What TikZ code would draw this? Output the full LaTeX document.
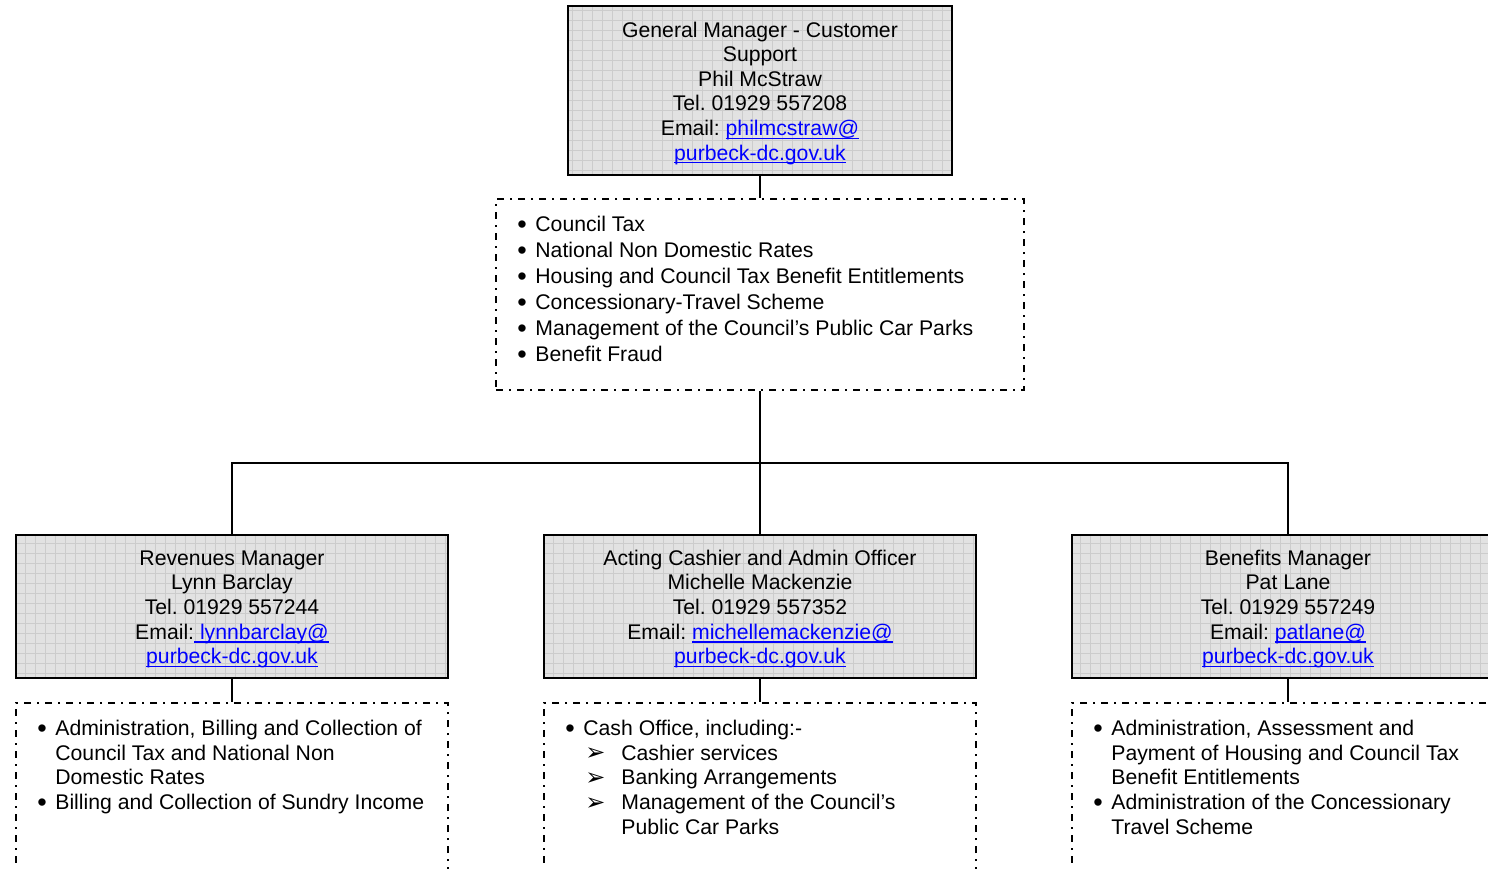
\documentclass[tikz,border=0pt]{standalone}
\usepackage{fontspec}
\setmainfont{Liberation Sans}
\newfontfamily\dejavu{DejaVu Sans}
\definecolor{linkblue}{RGB}{0,0,255}
\definecolor{boxfill}{RGB}{226,226,226}
\definecolor{gridcol}{RGB}{204,204,204}
\frenchspacing
\newcommand\lnk[1]{{\color{linkblue}\setbox0=\hbox{#1}\rlap{\rule[-1.7pt]{\wd0}{0.55pt}}\box0}}
\newcommand\bul{\makebox[9pt][l]{\raisebox{-0.8pt}{\fontsize{13.5}{12}\selectfont •}}}
\newcommand\ind{\hspace*{9pt}}
\newcommand\arr{\hspace*{10pt}\makebox[18pt][l]{\raisebox{-0.3pt}{\dejavu\fontsize{12}{12}\selectfont ➢}}}
\newcommand\arrind{\hspace*{28pt}}
\newcommand\firstln{\rule{0pt}{10.2pt}}
\begin{document}
\begin{tikzpicture}[x=0.5pt,y=-0.5pt,
  mgrbox/.style={draw, line width=1pt, fill=boxfill, inner sep=0pt,
    align=center, font=\fontsize{10.6}{12.3}\selectfont,
    path picture={\draw[gridcol, line width=0.4pt, step=5pt]
      (path picture bounding box.south west) grid (path picture bounding box.north east);}},
  dutybox/.style={draw, line width=1pt, inner sep=0pt,
    dash pattern=on 3.5pt off 3pt on 1pt off 3pt},
  duties/.style={anchor=north west, inner sep=0pt, align=left,
    font=\fontsize{10.6}{12.3}\selectfont},
  conn/.style={line width=1pt}]
\useasboundingbox (0,0) rectangle (1488,868);
\clip (0,0) rectangle (1488,868);

% General manager
\node[mgrbox, minimum width=192pt, minimum height=84.5pt] (TB) at (760,90.5)
  {\firstln General Manager - Customer\\Support\\Phil McStraw\\Tel. 01929 557208\\Email: \lnk{philmcstraw@}\\\lnk{purbeck-dc.gov.uk}};
\node[dutybox, minimum width=264pt, minimum height=95.5pt] (TD) at (760,294.5) {};
\node[duties, font=\fontsize{10.6}{13}\selectfont] (TDt) at (517,216)
  {\bul Council Tax\\\bul National Non Domestic Rates\\\bul Housing and Council Tax Benefit Entitlements\\\bul Concessionary-Travel Scheme\\\bul Management of the Council’s Public Car Parks\\\bul Benefit Fraud};

% Managers
\node[mgrbox, minimum width=216pt, minimum height=71.5pt] (LB) at (232,606.5)
  {\firstln Revenues Manager\\Lynn Barclay\\Tel. 01929 557244\\Email:\lnk{ lynnbarclay@}\\\lnk{purbeck-dc.gov.uk}};
\node[mgrbox, minimum width=216pt, minimum height=71.5pt] (MB) at (760,606.5)
  {\firstln Acting Cashier and Admin Officer\\Michelle Mackenzie\\Tel. 01929 557352\\Email: \lnk{michellemackenzie@}\\\lnk{purbeck-dc.gov.uk}};
\node[mgrbox, minimum width=216pt, minimum height=71.5pt] (RB) at (1288,606.5)
  {\firstln Benefits Manager\\Pat Lane\\Tel. 01929 557249\\Email: \lnk{patlane@}\\\lnk{purbeck-dc.gov.uk}};

% Duty boxes
\node[dutybox, minimum width=216pt, minimum height=90pt] (LD) at (232,793) {};
\node[dutybox, minimum width=216pt, minimum height=90pt] (MD) at (760,793) {};
\node[dutybox, minimum width=216pt, minimum height=90pt] (RD) at (1288,793) {};

\node[duties] (LDt) at (37,720)
  {\bul Administration, Billing and Collection of\\\ind Council Tax and National Non\\\ind Domestic Rates\\\bul Billing and Collection of Sundry Income};
\node[duties] (MDt) at (565,720)
  {\bul Cash Office, including:-\\\arr Cashier services\\\arr Banking Arrangements\\\arr Management of the Council’s\\\arrind Public Car Parks};
\node[duties] (RDt) at (1093,720)
  {\bul Administration, Assessment and\\\ind Payment of Housing and Council Tax\\\ind Benefit Entitlements\\\bul Administration of the Concessionary\\\ind Travel Scheme};

% Connectors
\coordinate (J) at (760,463);
\draw[conn] (TB.south) -- (TD.north);
\draw[conn] (TD.south) -- (J) -- (MB.north);
\draw[conn] (LB.north) |- (J) -| (RB.north);
\draw[conn] (LB.south) -- (LD.north);
\draw[conn] (MB.south) -- (MD.north);
\draw[conn] (RB.south) -- (RD.north);
\end{tikzpicture}
\end{document}
